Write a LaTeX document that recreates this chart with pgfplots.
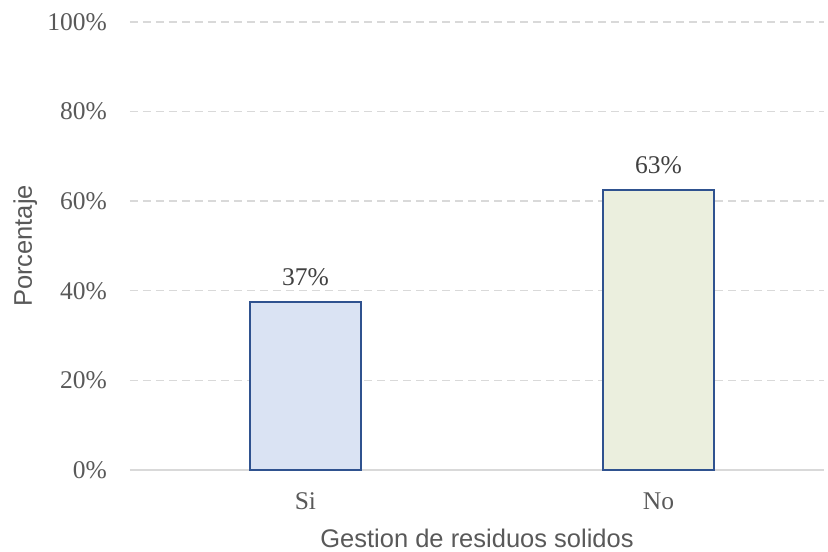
\documentclass[border=0pt]{standalone}
\usepackage{pgfplots}
\pgfplotsset{compat=1.18}
\usepackage{fontspec}
\setmainfont{Liberation Serif}
\newfontfamily\arialf{Liberation Sans}
\definecolor{txt}{HTML}{595959}
\definecolor{lbl}{HTML}{404040}
\definecolor{gridc}{HTML}{D9D9D9}
\definecolor{edge}{HTML}{2F528F}
\definecolor{fsi}{HTML}{DAE3F3}
\definecolor{fno}{HTML}{EBEFDE}
\begin{document}
\begin{tikzpicture}
\path[use as bounding box] (-130pt,-82pt) rectangle (698pt,470pt);
\begin{axis}[
 at={(0pt,0pt)}, anchor=south west,
 scale only axis, width=694pt, height=448pt,
 xmin=-0.497, xmax=1.469, ymin=0, ymax=100,
 axis line style={draw=none},
 ytick={0,20,40,60,80,100},
 yticklabels={0\%,20\%,40\%,60\%,80\%,100\%},
 xtick={0,1}, xticklabels={Si,No},
 major tick length=0pt,
 ymajorgrids,
 grid style={gridc, line width=1.4pt, dash pattern=on 8pt off 5pt},
 tick label style={font=\fontsize{25.5}{30}\selectfont, text=txt},
 yticklabel style={anchor=east, inner sep=0pt, xshift=-23pt},
 xticklabel style={anchor=base, inner sep=0pt, yshift=-39pt},
 xlabel={Gestion de residuos solidos},
 ylabel={Porcentaje},
 label style={font=\arialf\fontsize{25.5}{30}\selectfont, text=txt},
 xlabel style={at={(rel axis cs:0.5,0)}, anchor=base, yshift=-77pt},
 ylabel style={at={(rel axis cs:0,0.5)}, anchor=base, rotate=0, yshift=98pt},
 clip=false,
]
\draw[gridc, line width=1.5pt] (rel axis cs:0,0) -- (rel axis cs:1,0);
\addplot[ybar, bar width=111pt, bar shift=0pt, fill=fsi, draw=edge, line width=1.5pt,
  point meta=explicit symbolic, nodes near coords={\pgfplotspointmeta\%},
  nodes near coords style={anchor=base, yshift=16pt, text=lbl, font=\fontsize{25.5}{30}\selectfont}]
  table[meta=label] {
x y label
0 37.5 37
};
\addplot[ybar, bar width=111pt, bar shift=0pt, fill=fno, draw=edge, line width=1.5pt,
  point meta=explicit symbolic, nodes near coords={\pgfplotspointmeta\%},
  nodes near coords style={anchor=base, yshift=16pt, text=lbl, font=\fontsize{25.5}{30}\selectfont}]
  table[meta=label] {
x y label
1 62.5 63
};
\end{axis}
\end{tikzpicture}
\end{document}
